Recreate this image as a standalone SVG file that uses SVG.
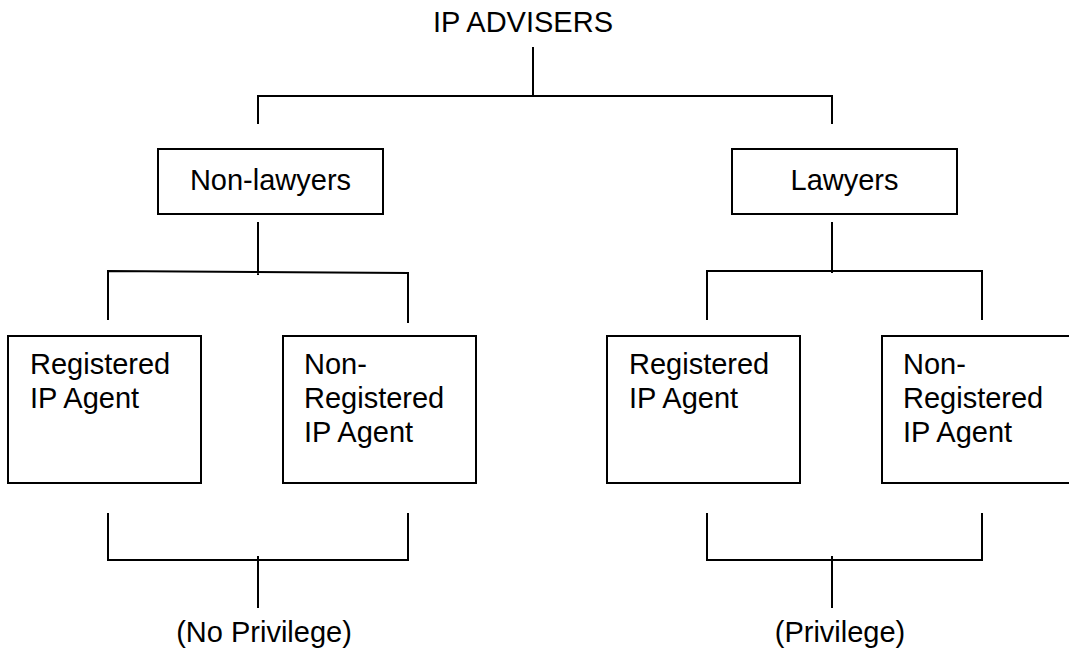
<svg xmlns="http://www.w3.org/2000/svg" width="1069" height="648" viewBox="0 0 1069 648">
<style>
.t{font-family:"Liberation Sans",Arial,sans-serif;font-size:29px;fill:#000}
.c{text-anchor:middle}
.b{fill:#fff;stroke:#000;stroke-width:2}
.l{fill:none;stroke:#000;stroke-width:2}
</style>
<rect width="1069" height="648" fill="#fff"/>
<g id="root"><text class="t c" x="523" y="32">IP ADVISERS</text></g>
<g id="nonlawyers"><rect class="b" x="158" y="149" width="225" height="65"/><text class="t c" x="270.5" y="190">Non-lawyers</text></g>
<g id="lawyers"><rect class="b" x="732" y="149" width="225" height="65"/><text class="t c" x="844.5" y="190">Lawyers</text></g>
<g id="nl-reg"><rect class="b" x="8" y="336" width="193" height="147"/><text class="t" x="30" y="374">Registered</text><text class="t" x="30" y="408">IP Agent</text></g>
<g id="nl-nonreg"><rect class="b" x="283" y="336" width="193" height="147"/><text class="t" x="304" y="374">Non-</text><text class="t" x="304" y="408">Registered</text><text class="t" x="304" y="442">IP Agent</text></g>
<g id="l-reg"><rect class="b" x="607" y="336" width="193" height="147"/><text class="t" x="629" y="374">Registered</text><text class="t" x="629" y="408">IP Agent</text></g>
<g id="l-nonreg"><rect class="b" x="882" y="336" width="193" height="147"/><text class="t" x="903" y="374">Non-</text><text class="t" x="903" y="408">Registered</text><text class="t" x="903" y="442">IP Agent</text></g>
<g id="noprivilege"><text class="t c" x="264" y="642">(No Privilege)</text></g>
<g id="privilege"><text class="t c" x="840" y="642">(Privilege)</text></g>
<g id="connectors">
<path class="l" d="M533 47V96M258 124V96H832V124"/>
<path class="l" d="M258 222V275M108 320V271L408 273V323"/>
<path class="l" d="M832 222V273M707 320V271H982V320"/>
<path class="l" d="M108 513V560H408V513M258 556V608"/>
<path class="l" d="M707 513V560H982V513M832 556V608"/>
</g>
</svg>
